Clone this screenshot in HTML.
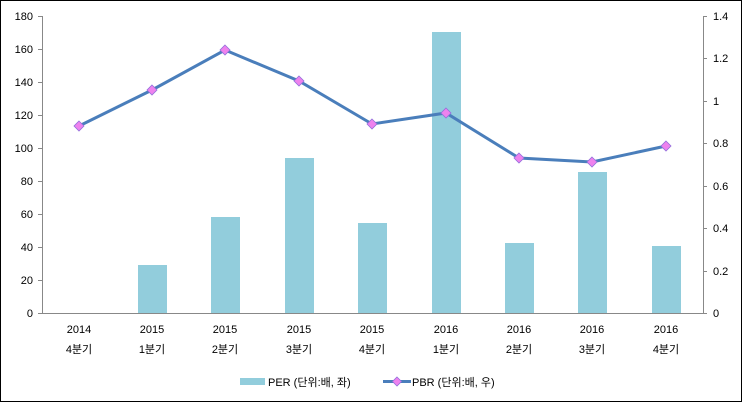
<!DOCTYPE html><html><head><meta charset="utf-8"><style>body{margin:0;background:#fff}svg{display:block}text{font-family:"Liberation Sans","Noto Sans CJK KR",sans-serif;font-size:11px;fill:#000}</style></head><body>
<svg width="743" height="403" xmlns="http://www.w3.org/2000/svg">
<rect x="0.5" y="0.5" width="741" height="401" fill="#fff" stroke="#000"/>
<g stroke="#888" stroke-width="1">
<line x1="42.5" y1="16" x2="42.5" y2="313"/><line x1="703.5" y1="16" x2="703.5" y2="313"/><line x1="42" y1="313.5" x2="703" y2="313.5"/>
<line x1="38" y1="16.5" x2="42" y2="16.5"/><line x1="38" y1="49.5" x2="42" y2="49.5"/><line x1="38" y1="82.5" x2="42" y2="82.5"/><line x1="38" y1="115.5" x2="42" y2="115.5"/><line x1="38" y1="148.5" x2="42" y2="148.5"/><line x1="38" y1="181.5" x2="42" y2="181.5"/><line x1="38" y1="214.5" x2="42" y2="214.5"/><line x1="38" y1="247.5" x2="42" y2="247.5"/><line x1="38" y1="280.5" x2="42" y2="280.5"/><line x1="38" y1="313.5" x2="42" y2="313.5"/>
<line x1="703" y1="16.5" x2="707" y2="16.5"/><line x1="703" y1="58.5" x2="707" y2="58.5"/><line x1="703" y1="101.5" x2="707" y2="101.5"/><line x1="703" y1="143.5" x2="707" y2="143.5"/><line x1="703" y1="186.5" x2="707" y2="186.5"/><line x1="703" y1="228.5" x2="707" y2="228.5"/><line x1="703" y1="271.5" x2="707" y2="271.5"/><line x1="703" y1="313.5" x2="707" y2="313.5"/>
</g>
<g text-anchor="end"><text x="33" y="20">180</text><text x="33" y="53">160</text><text x="33" y="86">140</text><text x="33" y="119">120</text><text x="33" y="152">100</text><text x="33" y="185">80</text><text x="33" y="218">60</text><text x="33" y="251">40</text><text x="33" y="284">20</text><text x="33" y="317">0</text></g>
<g><text x="713" y="20">1.4</text><text x="713" y="62">1.2</text><text x="713" y="105">1</text><text x="713" y="147">0.8</text><text x="713" y="190">0.6</text><text x="713" y="232">0.4</text><text x="713" y="275">0.2</text><text x="713" y="317">0</text></g>
<g fill="#92cddc">
<rect x="138" y="265" width="29" height="48"/><rect x="211" y="217" width="29" height="96"/><rect x="285" y="158" width="29" height="155"/><rect x="358" y="223" width="29" height="90"/><rect x="432" y="32" width="29" height="281"/><rect x="505" y="243" width="29" height="70"/><rect x="578" y="172" width="29" height="141"/><rect x="652" y="246" width="29" height="67"/>
</g>
<polyline points="79,126 152,90 225,50 299,81 372,124 446,113 519,158 592,162 666,146" fill="none" stroke="#4a7ebb" stroke-width="3"/>
<g fill="#ee82ee" stroke="#9370db" stroke-width="0.8">
<path d="M79 121l5 5-5 5-5-5z"/><path d="M152 85l5 5-5 5-5-5z"/><path d="M225 45l5 5-5 5-5-5z"/><path d="M299 76l5 5-5 5-5-5z"/><path d="M372 119l5 5-5 5-5-5z"/><path d="M446 108l5 5-5 5-5-5z"/><path d="M519 153l5 5-5 5-5-5z"/><path d="M592 157l5 5-5 5-5-5z"/><path d="M666 141l5 5-5 5-5-5z"/>
</g>
<g text-anchor="middle">
<text x="79" y="333">2014</text><text x="152" y="333">2015</text><text x="225" y="333">2015</text><text x="299" y="333">2015</text><text x="372" y="333">2015</text><text x="446" y="333">2016</text><text x="519" y="333">2016</text><text x="592" y="333">2016</text><text x="666" y="333">2016</text>
<text x="79" y="353">4분기</text><text x="152" y="353">1분기</text><text x="225" y="353">2분기</text><text x="299" y="353">3분기</text><text x="372" y="353">4분기</text><text x="446" y="353">1분기</text><text x="519" y="353">2분기</text><text x="592" y="353">3분기</text><text x="666" y="353">4분기</text>
</g>
<rect x="240" y="378" width="25" height="7" fill="#92cddc"/>
<text x="268" y="386">PER (단위:배, 좌)</text>
<line x1="383" y1="381.5" x2="411" y2="381.5" stroke="#4a7ebb" stroke-width="3"/>
<path d="M397 377l4.5 4.5-4.5 4.5-4.5-4.5z" fill="#ee82ee" stroke="#9370db" stroke-width="0.8"/>
<text x="412" y="386">PBR (단위:배, 우)</text>
</svg>
</body></html>
